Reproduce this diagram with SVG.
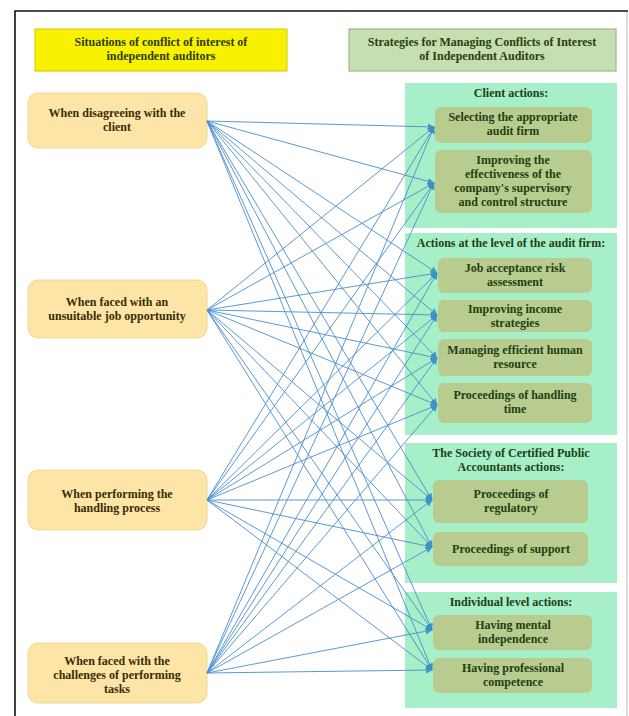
<svg xmlns="http://www.w3.org/2000/svg" width="629" height="716" viewBox="0 0 629 716">
<defs>
<marker id="ah" viewBox="0 0 10 10" refX="9" refY="5" markerWidth="7" markerHeight="7" markerUnits="userSpaceOnUse" orient="auto">
<path d="M0,0 L10,5 L0,10 z" fill="#3d8fc4"/>
</marker>
<style>
text{font-family:"Liberation Serif","Times New Roman",serif;font-weight:bold;font-size:12px;text-anchor:middle}
.lt{fill:#3a2c05}
.rt{fill:#1e3f14}
.ht{fill:#2f3d08}
.src{fill:#fce5a6;stroke:#f3d88e;stroke-width:1}
.panel{fill:#a6efc8}
.sub{fill:#b7cc8e}
.con line{stroke:#4a8fd2;stroke-width:1;fill:none;marker-end:url(#ah);opacity:0.9}
</style>
</defs>
<rect width="629" height="716" fill="#ffffff"/>
<path d="M15,716 L15,11 L628,11" fill="none" stroke="#111111" stroke-width="1.6"/>
<line x1="627" y1="12" x2="627" y2="716" stroke="#bbbbbb" stroke-width="1"/>

<g id="header-left">
<rect x="35" y="29" width="252" height="42" fill="#f8f200" stroke="#d8c800" stroke-width="1"/>
<text class="ht" x="161" y="46">Situations of conflict of interest of</text>
<text class="ht" x="161" y="60">independent auditors</text>
</g>
<g id="header-right">
<rect x="349" y="29" width="267" height="42" fill="#c5deb2" stroke="#9fb58f" stroke-width="1.2"/>
<text class="ht" x="482" y="46">Strategies for Managing Conflicts of Interest</text>
<text class="ht" x="482" y="60">of Independent Auditors</text>
</g>

<g id="panel-client">
<rect class="panel" x="405" y="83" width="212" height="145"/>
<text class="rt" x="511" y="97">Client actions:</text>
</g>
<g id="panel-firm">
<rect class="panel" x="405" y="233" width="212" height="202"/>
<text class="rt" x="511" y="247">Actions at the level of the audit firm:</text>
</g>
<g id="panel-society">
<rect class="panel" x="405" y="443" width="212" height="140"/>
<text class="rt" x="511" y="457">The Society of Certified Public</text>
<text class="rt" x="511" y="471">Accountants actions:</text>
</g>
<g id="panel-individual">
<rect class="panel" x="405" y="592" width="212" height="116"/>
<text class="rt" x="511" y="606">Individual level actions:</text>
</g>

<g id="s1">
<rect class="sub" x="435" y="107" width="157" height="36" rx="6"/>
<text class="rt" x="513" y="121">Selecting the appropriate</text>
<text class="rt" x="513" y="135">audit firm</text>
</g>
<g id="s2">
<rect class="sub" x="435" y="150" width="157" height="63" rx="6"/>
<text class="rt" x="513" y="164">Improving the</text>
<text class="rt" x="513" y="178">effectiveness of the</text>
<text class="rt" x="513" y="192">company's supervisory</text>
<text class="rt" x="513" y="206">and control structure</text>
</g>
<g id="s3">
<rect class="sub" x="438" y="258" width="154" height="35" rx="6"/>
<text class="rt" x="515" y="272">Job acceptance risk</text>
<text class="rt" x="515" y="286">assessment</text>
</g>
<g id="s4">
<rect class="sub" x="438" y="300" width="154" height="32" rx="6"/>
<text class="rt" x="515" y="313">Improving income</text>
<text class="rt" x="515" y="327">strategies</text>
</g>
<g id="s5">
<rect class="sub" x="438" y="339" width="154" height="37" rx="6"/>
<text class="rt" x="515" y="354">Managing efficient human</text>
<text class="rt" x="515" y="368">resource</text>
</g>
<g id="s6">
<rect class="sub" x="438" y="383" width="154" height="40" rx="6"/>
<text class="rt" x="515" y="399">Proceedings of handling</text>
<text class="rt" x="515" y="413">time</text>
</g>
<g id="s7">
<rect class="sub" x="433" y="480" width="155" height="43" rx="6"/>
<text class="rt" x="511" y="498">Proceedings of</text>
<text class="rt" x="511" y="512">regulatory</text>
</g>
<g id="s8">
<rect class="sub" x="433" y="532" width="155" height="34" rx="6"/>
<text class="rt" x="511" y="553">Proceedings of support</text>
</g>
<g id="s9">
<rect class="sub" x="433" y="615" width="159" height="35" rx="6"/>
<text class="rt" x="513" y="629">Having mental</text>
<text class="rt" x="513" y="643">independence</text>
</g>
<g id="s10">
<rect class="sub" x="433" y="658" width="159" height="35" rx="6"/>
<text class="rt" x="513" y="672">Having professional</text>
<text class="rt" x="513" y="686">competence</text>
</g>

<g id="n1">
<rect class="src" x="28" y="93" width="179" height="55" rx="10"/>
<text class="lt" x="117" y="117">When disagreeing with the</text>
<text class="lt" x="117" y="131">client</text>
</g>
<g id="n2">
<rect class="src" x="28" y="280" width="179" height="58" rx="10"/>
<text class="lt" x="117" y="306">When faced with an</text>
<text class="lt" x="117" y="320">unsuitable job opportunity</text>
</g>
<g id="n3">
<rect class="src" x="28" y="470" width="179" height="60" rx="10"/>
<text class="lt" x="117" y="498">When performing the</text>
<text class="lt" x="117" y="512">handling process</text>
</g>
<g id="n4">
<rect class="src" x="28" y="643" width="179" height="60" rx="10"/>
<text class="lt" x="117" y="665">When faced with the</text>
<text class="lt" x="117" y="679">challenges of performing</text>
<text class="lt" x="117" y="693">tasks</text>
</g>

<g id="connectors" class="con">
<line x1="207" y1="121" x2="434" y2="127"/>
<line x1="207" y1="121" x2="434" y2="183"/>
<line x1="207" y1="121" x2="437" y2="273"/>
<line x1="207" y1="121" x2="437" y2="315"/>
<line x1="207" y1="121" x2="437" y2="358"/>
<line x1="207" y1="121" x2="437" y2="405"/>
<line x1="207" y1="121" x2="432" y2="500"/>
<line x1="207" y1="121" x2="432" y2="547"/>
<line x1="207" y1="121" x2="432" y2="630"/>
<line x1="207" y1="121" x2="432" y2="670"/>

<line x1="207" y1="310" x2="434" y2="127"/>
<line x1="207" y1="310" x2="434" y2="183"/>
<line x1="207" y1="310" x2="437" y2="273"/>
<line x1="207" y1="310" x2="437" y2="315"/>
<line x1="207" y1="310" x2="437" y2="358"/>
<line x1="207" y1="310" x2="437" y2="405"/>
<line x1="207" y1="310" x2="432" y2="500"/>
<line x1="207" y1="310" x2="432" y2="547"/>
<line x1="207" y1="310" x2="432" y2="630"/>
<line x1="207" y1="310" x2="432" y2="670"/>

<line x1="207" y1="500" x2="434" y2="127"/>
<line x1="207" y1="500" x2="434" y2="183"/>
<line x1="207" y1="500" x2="437" y2="273"/>
<line x1="207" y1="500" x2="437" y2="315"/>
<line x1="207" y1="500" x2="437" y2="358"/>
<line x1="207" y1="500" x2="437" y2="405"/>
<line x1="207" y1="500" x2="432" y2="500"/>
<line x1="207" y1="500" x2="432" y2="547"/>
<line x1="207" y1="500" x2="432" y2="630"/>
<line x1="207" y1="500" x2="432" y2="670"/>

<line x1="207" y1="673" x2="434" y2="127"/>
<line x1="207" y1="673" x2="434" y2="183"/>
<line x1="207" y1="673" x2="437" y2="273"/>
<line x1="207" y1="673" x2="437" y2="315"/>
<line x1="207" y1="673" x2="437" y2="358"/>
<line x1="207" y1="673" x2="437" y2="405"/>
<line x1="207" y1="673" x2="432" y2="500"/>
<line x1="207" y1="673" x2="432" y2="547"/>
<line x1="207" y1="673" x2="432" y2="630"/>
<line x1="207" y1="673" x2="432" y2="670"/>
</g>
</svg>
